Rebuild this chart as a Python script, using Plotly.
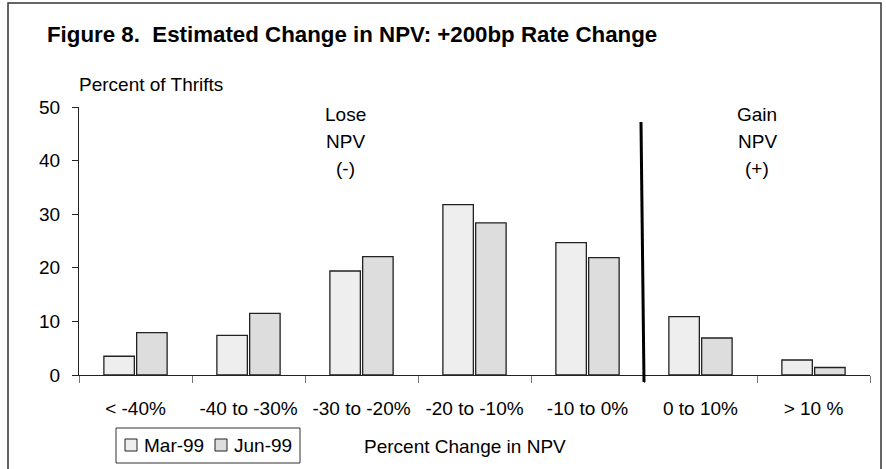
import plotly.graph_objects as go

categories = ["< -40%", "-40 to -30%", "-30 to -20%", "-20 to -10%", "-10 to 0%", "0 to 10%", "> 10 %"]
mar99 = [3.5, 7.4, 19.4, 31.8, 24.7, 10.9, 2.8]
jun99 = [7.9, 11.5, 22.1, 28.4, 21.9, 6.9, 1.4]
series_names = ["Mar-99", "Jun-99"]
y_ticks = [0, 10, 20, 30, 40, 50]

W, H = 886, 469
ML, MR, MT, MB = 79, 16, 107, 94
PW, PH = W - ML - MR, H - MT - MB
FONT = "Liberation Sans, Arial, sans-serif"


def px(x):
    return (x - ML) / PW


def py(y):
    return (H - MB - y) / PH


fig = go.Figure()
fills = ["#eeeeee", "#dddddd"]
for name, vals, col in zip(series_names, [mar99, jun99], fills):
    fig.add_trace(go.Bar(
        x=categories, y=vals, name=name,
        marker=dict(color=col, line=dict(color="#222222", width=1.3)),
        showlegend=False,
    ))

shapes = []
annotations = []

# outer frame
shapes.append(dict(type="rect", xref="paper", yref="paper",
                   x0=px(8), x1=px(881), y0=py(480), y1=py(3),
                   line=dict(color="#333333", width=1.5)))
# divider line between lose/gain
shapes.append(dict(type="line", xref="paper", yref="paper",
                   x0=px(641), x1=px(644), y0=py(122), y1=py(382),
                   line=dict(color="#000000", width=3)))

# manual legend
shapes.append(dict(type="rect", xref="paper", yref="paper",
                   x0=px(116), x1=px(300), y0=py(463), y1=py(428),
                   line=dict(color="#333333", width=1), fillcolor="white"))
leg_items = [(125, 142, fills[0], series_names[0]), (215, 232, fills[1], series_names[1])]
for sx, tx, col, name in leg_items:
    shapes.append(dict(type="rect", xref="paper", yref="paper",
                       x0=px(sx), x1=px(sx + 12), y0=py(451), y1=py(439),
                       line=dict(color="#222222", width=1), fillcolor=col))
    annotations.append(dict(text=name, xref="paper", yref="paper", x=px(tx), y=py(445),
                            xanchor="left", yanchor="middle", showarrow=False,
                            font=dict(family=FONT, size=19, color="black")))

# axis titles
annotations.append(dict(text="Percent of Thrifts", xref="paper", yref="paper",
                        x=px(77), y=py(84), xanchor="left", yanchor="middle",
                        showarrow=False, font=dict(family=FONT, size=19, color="black")))
annotations.append(dict(text="Percent Change in NPV", xref="paper", yref="paper",
                        x=px(465), y=py(447), xanchor="center", yanchor="middle",
                        showarrow=False, font=dict(family=FONT, size=19, color="black")))

# region labels
for cx, lines in [(345, ["Lose", "NPV", "(-)"]), (757, ["Gain", "NPV", "(+)"])]:
    for i, t in enumerate(lines):
        annotations.append(dict(text=t, xref="paper", yref="paper",
                                x=px(cx), y=py(114 + 27 * i), xanchor="center", yanchor="middle",
                                showarrow=False, font=dict(family=FONT, size=19, color="black")))

fig.update_layout(
    width=W, height=H,
    margin=dict(l=ML, r=MR, t=MT, b=MB),
    paper_bgcolor="white", plot_bgcolor="white",
    barmode="group", bargap=0.42, bargroupgap=0.07,
    title=dict(text="Figure 8.\u00a0 Estimated Change in NPV: +200bp Rate Change",
               xref="container", yref="container", x=47 / W, y=1 - 34 / H,
               xanchor="left", yanchor="middle",
               font=dict(family=FONT, size=22.3, color="black", weight="bold")),
    shapes=shapes, annotations=annotations,
    font=dict(family=FONT, size=19, color="black"),
)
fig.update_xaxes(
    type="category", showgrid=False, zeroline=False,
    showline=True, linecolor="#222222", linewidth=1,
    ticks="outside", tickson="boundaries", ticklen=7, tickcolor="#777777", tickwidth=1,
    ticklabelstandoff=16,
    tickfont=dict(family=FONT, size=19, color="black"),
)
fig.update_yaxes(
    range=[0, 50], tickvals=y_ticks, showgrid=False, zeroline=False,
    showline=True, linecolor="#222222", linewidth=1,
    ticks="outside", ticklen=6, tickcolor="#222222", tickwidth=1,
    ticklabelstandoff=8,
    tickfont=dict(family=FONT, size=19, color="black"),
)

fig.write_html(
    "out.html",
    config={"displayModeBar": False},
    post_script="document.body.style.margin='0';document.body.style.overflow='hidden';",
)
